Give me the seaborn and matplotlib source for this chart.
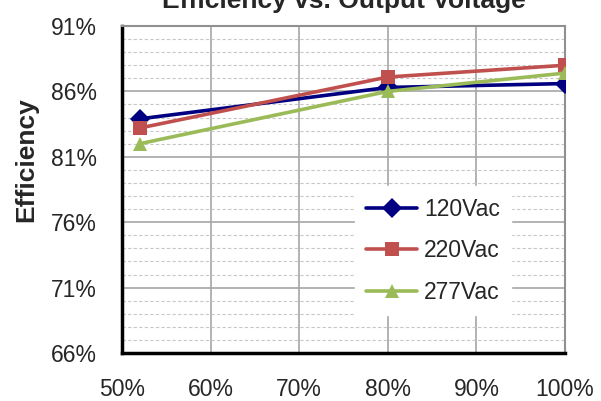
import pandas as pd
import numpy as np
import matplotlib
matplotlib.use("Agg")
import matplotlib.pyplot as plt
import seaborn as sns
from matplotlib.ticker import MultipleLocator, FixedLocator, FuncFormatter

# data (output voltage %, efficiency %)
load = [52, 80, 100]
eff_120 = [83.9, 86.3, 86.6]
eff_220 = [83.2, 87.1, 88.0]
eff_277 = [82.0, 86.0, 87.4]
series_names = ["120Vac", "220Vac", "277Vac"]
colors = ["#000080", "#C0504D", "#9BBB59"]
markers = ["D", "s", "^"]
y_ticks = [66, 71, 76, 81, 86, 91]

df = pd.DataFrame({
    "Load": load * 3,
    "Efficiency": eff_120 + eff_220 + eff_277,
    "Input": [series_names[0]] * 3 + [series_names[1]] * 3 + [series_names[2]] * 3,
})

sns.set_style("white")
plt.rcParams['font.family'] = ['Liberation Sans', 'DejaVu Sans']

fig = plt.figure(figsize=(6.01, 4.01), dpi=100)
ax = fig.add_axes([122 / 601, 48 / 401, 443 / 601, 327 / 401])

sns.lineplot(data=df, x="Load", y="Efficiency", hue="Input", style="Input",
             palette=colors, markers=markers, dashes=False, markersize=10,
             linewidth=2.6, markeredgewidth=0, ax=ax, zorder=3)

ax.set_xlim(50, 100)
ax.set_ylim(66, 91)
ax.xaxis.set_major_locator(MultipleLocator(10))
ax.yaxis.set_major_locator(FixedLocator(y_ticks))
ax.yaxis.set_minor_locator(MultipleLocator(1))
ax.xaxis.set_major_formatter(FuncFormatter(lambda v, p: f"{v:.0f}%"))
ax.yaxis.set_major_formatter(FuncFormatter(lambda v, p: f"{v:.0f}%"))

ax.grid(True, which="major", axis="both", color="#A6A6A6", linewidth=1.2, linestyle="-")
ax.grid(True, which="minor", axis="y", color="#C8C8C8", linewidth=0.8, linestyle=(0, (3, 2)))
ax.set_axisbelow(True)

for side in ["top", "right"]:
    ax.spines[side].set_color("#909090")
    ax.spines[side].set_linewidth(1.5)
for side in ["left", "bottom"]:
    ax.spines[side].set_color("black")
    ax.spines[side].set_linewidth(2.5)

ax.tick_params(axis="both", which="major", direction="in", length=4, width=2,
               color="black", labelsize=16.5, pad=18)
ax.tick_params(axis="y", which="minor", length=0)

ax.set_xlabel("")
ax.set_ylabel("Efficiency", fontsize=19, fontweight="bold")
ax.yaxis.set_label_coords(-0.19, 0.59)

fig.text(344 / 601, (401 - 8) / 401, "Efficiency vs. Output Voltage",
         ha="center", va="baseline", fontsize=19, fontweight="bold")

leg = ax.legend(loc="lower left", bbox_to_anchor=(0.526, 0.116), borderaxespad=0,
                fontsize=16.5, frameon=True, handlelength=2.2, labelspacing=0.8,
                handletextpad=0.3, borderpad=0.5)
leg.get_frame().set_edgecolor("white")
leg.get_frame().set_facecolor("white")
leg.get_frame().set_alpha(1)
leg.get_frame().set_boxstyle("square", pad=0)

fig.savefig("out.png", dpi=100)
